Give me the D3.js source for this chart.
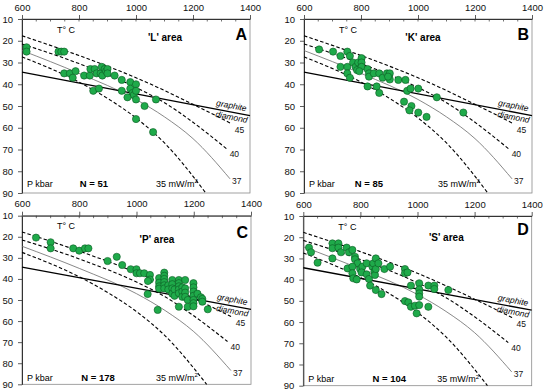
<!DOCTYPE html>
<html><head><meta charset="utf-8">
<script src="https://cdn.jsdelivr.net/npm/d3@7"></script>
<style>
body{margin:0;background:#fff;}
svg text{font-family:Arial,"Liberation Sans",sans-serif;}
</style></head>
<body><svg id="c" width="550" height="391"></svg>
<script>
// ---- data ----
const tempTicks = [600, 800, 1000, 1200, 1400];
const pressTicks = [10, 20, 30, 40, 50, 60, 70, 80, 90];
const panelLetters = ["A", "B", "C", "D"];
const areaNames = ["'L' area", "'K' area", "'P' area", "'S' area"];
const countLabels = ["N = 51", "N = 85", "N = 178", "N = 104"];
const geothermNames = ["45", "40", "37", "35"];

// geotherms (heat flow mW/m2): temperature (°C) and pressure (kbar)
const hf45T = [600, 800, 1000, 1200, 1336];
const hf45P = [17.7, 26.8, 37, 49.2, 58.2];
const hf40T = [600, 800, 1000, 1100, 1200, 1318];
const hf40P = [21.5, 30.5, 41.5, 48.5, 57.5, 69.7];
const hf37T = [600, 800, 1000, 1100, 1200, 1330];
const hf37P = [24.5, 35, 47, 55, 65, 83.5];
const hf35T = [600, 800, 900, 1000, 1100, 1245];
const hf35P = [27.4, 39, 46.5, 55.5, 67, 90];
// graphite-diamond equilibrium
const gdT = [600, 1400];
const gdP = [34.4, 54.4];

// xenocryst P-T estimates [T °C, P kbar]
const areaL = [[616,23],[616,25],[728,25],[738,25],[748,25],
 [748,35],[768,35],[778,37],[788,34],[818,36],[838,36],[840,33],[855,33],[850,43],[862,35],[870,42],
 [876,35],[880,32],[882,36],[890,33],[895,34],[900,33],[900,35],[925,36],[950,38],[950,43],[980,39],
 [980,42],[988,44],[992,45],[1000,40],[1000,43],[970,46],[1000,47],[1030,50],[1070,47],[1000,56],[1060,62]];
const areaK = [[653,24],[702,25],[728,27],[752,25],[761,27],[728,32],[752,32],[752,35],[761,37],[772,30],
 [781,32],[786,33.5],[790,30],[802,28],[802,30],[802,32],[794,34],[823,33],[828,35],[828,36.5],[845,35],
 [864,35],[876,37],[891,35],[901,35],[901,37.8],[895,36.5],[931,38],[956,38],[823,41],[855,41],[864,44],
 [962,43],[974,42],[1001,42],[951,48],[977,50],[970,52],[1001,53],[1030,55],[1066,46],[1159,53]];
const areaP = [[649,20.4],[700,22.6],[700,25.5],[779,25.5],[800,26.6],[820,25.5],[832,25.5],[899,31.5],
 [931,29.5],[950,33.4],[980,35.4],[1000,35.4],[1000,37.3],[1012,37.3],[1027,37.3],[1047,38.1],[1047,40.3],
 [1040,41],[1039,47.2],[1074,54.7],
 [1079,39.6],[1079,41.8],[1079,43.5],[1079,44.6],
 [1097,37],[1097,38.5],[1097,40],[1097,41.5],[1097,43],[1097,44.5],
 [1111,43],[1111,45],
 [1125,40.5],[1125,42.5],[1125,44.5],[1125,47],
 [1133,45],[1133,48],
 [1148,40.5],[1148,42],[1148,43.5],[1148,45],[1148,46.8],[1148,53.2],
 [1160,44],[1160,46],[1160,48.5],
 [1170,40.5],[1170,44.5],[1170,46.5],[1170,48.5],
 [1179,50],[1179,53.2],
 [1199,42],[1199,44],[1199,46],[1199,48],[1199,50],[1199,51.5],[1199,53],
 [1213,47],[1225,48.7],[1230,49.5],[1230,50.8],[1249,54.4]];
const areaS = [[620,24.9],[627,27.1],[650,32],[702,22.9],[702,25.2],[702,30],[723,22.9],[723,24.9],[732,27.1],
 [752,24.9],[760,27.1],[772,26],[781,29.2],[781,30.4],[790,32.3],[755,34.7],[772,33.9],[772,37],[775,39.4],
 [787,39.9],[799,35],[807,33.9],[804,36.6],[822,32.3],[822,37.5],[830,39.7],[834,42.8],[842,33.9],[845,32.3],
 [849,36.2],[851,37.8],[854,30],[854,35],[863,32.3],[854,44.9],[874,46.8],[884,35],[904,33.9],[956,35],
 [956,37],[965,36.6],[977,42.8],[956,50.1],[968,50.7],[977,52.8],[991,52.3],[997,55.9],[1006,41.7],
 [1006,44.6],[1006,46.5],[1006,48],[1006,52],[1038,42.8],[1038,52.8],[1059,42.8],[1059,44.4],[1108,44.9]];
const areaData = [areaL, areaK, areaP, areaS];

// ---- layout ----
const layout = [
 {x0:22, x1:250, y0:19, y1:193, tdx:143, tdy:21.5, ldy:21, ndx:72, bdy:6.5},
 {x0:304, x1:532, y0:19, y1:193, tdx:119, tdy:21.5, ldy:21, ndx:65, bdy:6.5},
 {x0:22, x1:251, y0:215.7, y1:384.3, tdx:135, tdy:27, ldy:22.6, ndx:76, bdy:3.5},
 {x0:303.3, x1:531.7, y0:216, y1:385.7, tdx:143, tdy:25, ldy:19, ndx:86, bdy:3.5}
];

const svg = d3.select("#c");
const geos = [
 {T:hf45T, P:hf45P, dash:"3.5,2.2", col:"#000", w:1.1, ldx:3, ldy:9},
 {T:hf40T, P:hf40P, dash:"3.5,2.2", col:"#000", w:1.1, ldx:3, ldy:8},
 {T:hf37T, P:hf37P, dash:null, col:"#6a6a6a", w:0.8, ldx:2, ldy:5},
 {T:hf35T, P:hf35P, dash:"3.5,2.2", col:"#000", w:1.1, ldx:0, ldy:0}
];

layout.forEach((L, i) => {
  const x = d3.scaleLinear().domain([600, 1400]).range([L.x0, L.x1]);
  const y = d3.scaleLinear().domain([10, 90]).range([L.y0, L.y1]);
  const g = svg.append("g");

  g.append("rect").attr("x", L.x0).attr("y", L.y0).attr("width", L.x1 - L.x0).attr("height", L.y1 - L.y0)
    .attr("fill", "none").attr("stroke", "#8a8a8a").attr("stroke-width", 0.8);

  // minor ticks on top
  g.selectAll(".mt").data(d3.range(650, 1400, 50)).join("line")
    .attr("x1", d => x(d)).attr("x2", d => x(d)).attr("y1", L.y0).attr("y2", L.y0 + 2.5)
    .attr("stroke", "#333").attr("stroke-width", 0.7);

  const ax = g.append("g").attr("transform", `translate(0,${L.y0})`)
    .call(d3.axisTop(x).tickValues(tempTicks).tickFormat(d3.format("d")).tickSize(4).tickPadding(4.4).tickSizeOuter(0));
  const ay = g.append("g").attr("transform", `translate(${L.x0},0)`)
    .call(d3.axisLeft(y).tickValues(pressTicks).tickFormat(d3.format("d")).tickSize(4).tickPadding(5).tickSizeOuter(0));
  [ax, ay].forEach(a => {
    a.select(".domain").attr("stroke", "#333").attr("stroke-width", 1);
    a.selectAll(".tick line").attr("stroke", "#333").attr("stroke-width", 0.8);
    a.selectAll("text").attr("font-size", "9.5px").attr("fill", "#111")
      .attr("font-family", "Arial, 'Liberation Sans', sans-serif");
  });

  // geotherms
  geos.forEach((G, k) => {
    const pts = G.T.map((t, j) => [t, G.P[j]]);
    g.append("path").datum(pts)
      .attr("d", d3.line().x(d => x(d[0])).y(d => y(d[1])).curve(d3.curveMonotoneX))
      .attr("fill", "none").attr("stroke", G.col).attr("stroke-width", G.w)
      .attr("stroke-dasharray", G.dash);
    if (k < 3) {
      const last = pts[pts.length - 1];
      g.append("text").attr("x", x(last[0]) + G.ldx).attr("y", y(last[1]) + G.ldy)
        .attr("font-size", "8.5px").attr("fill", "#111").text(geothermNames[k]);
    }
  });

  // graphite-diamond line
  g.append("line").attr("x1", x(gdT[0])).attr("y1", y(gdP[0])).attr("x2", x(gdT[1])).attr("y2", y(gdP[1]))
    .attr("stroke", "#000").attr("stroke-width", 1.3);
  const ang = Math.atan2(y(gdP[1]) - y(gdP[0]), x(gdT[1]) - x(gdT[0])) * 180 / Math.PI;
  const tl = 1333, pl = gdP[0] + (gdP[1] - gdP[0]) * (tl - gdT[0]) / (gdT[1] - gdT[0]);
  g.append("text").attr("transform", `translate(${x(tl)},${y(pl) - 3.5}) rotate(${ang})`)
    .attr("text-anchor", "middle").attr("font-size", "8.5px").attr("font-style", "italic").text("graphite");
  g.append("text").attr("transform", `translate(${x(tl)},${y(pl) + 8}) rotate(${ang})`)
    .attr("text-anchor", "middle").attr("font-size", "8.5px").attr("font-style", "italic").text("diamond");

  // points
  g.selectAll("circle").data(areaData[i]).join("circle")
    .attr("cx", d => x(d[0])).attr("cy", d => y(d[1])).attr("r", 3.6)
    .attr("fill", "#1faa4a").attr("stroke", "#0c5a24").attr("stroke-width", 0.6);

  // annotations
  g.append("text").attr("x", L.x0 + 35).attr("y", L.y0 + 13.5).attr("font-size", "9px").text("T° C");
  g.append("text").attr("x", L.x0 + L.tdx).attr("y", L.y0 + L.tdy).attr("text-anchor", "middle")
    .attr("font-size", "10px").attr("font-weight", "bold").text(areaNames[i]);
  g.append("text").attr("x", L.x1 - 3).attr("y", L.y0 + L.ldy).attr("text-anchor", "end")
    .attr("font-size", "16px").attr("font-weight", "bold").text(panelLetters[i]);
  g.append("text").attr("x", L.x0 + 5).attr("y", L.y1 - L.bdy).attr("font-size", "9px").text("P kbar");
  g.append("text").attr("x", L.x0 + L.ndx).attr("y", L.y1 - L.bdy).attr("text-anchor", "middle")
    .attr("font-size", "9.5px").attr("font-weight", "bold").text(countLabels[i]);
  const t35 = g.append("text").attr("x", L.x0 + 134).attr("y", L.y1 - L.bdy).attr("font-size", "9px");
  t35.append("tspan").text(geothermNames[3] + " mW/m");
  t35.append("tspan").attr("font-size", "6px").attr("dy", "-3.5").text("2");
});
</script></body></html>
